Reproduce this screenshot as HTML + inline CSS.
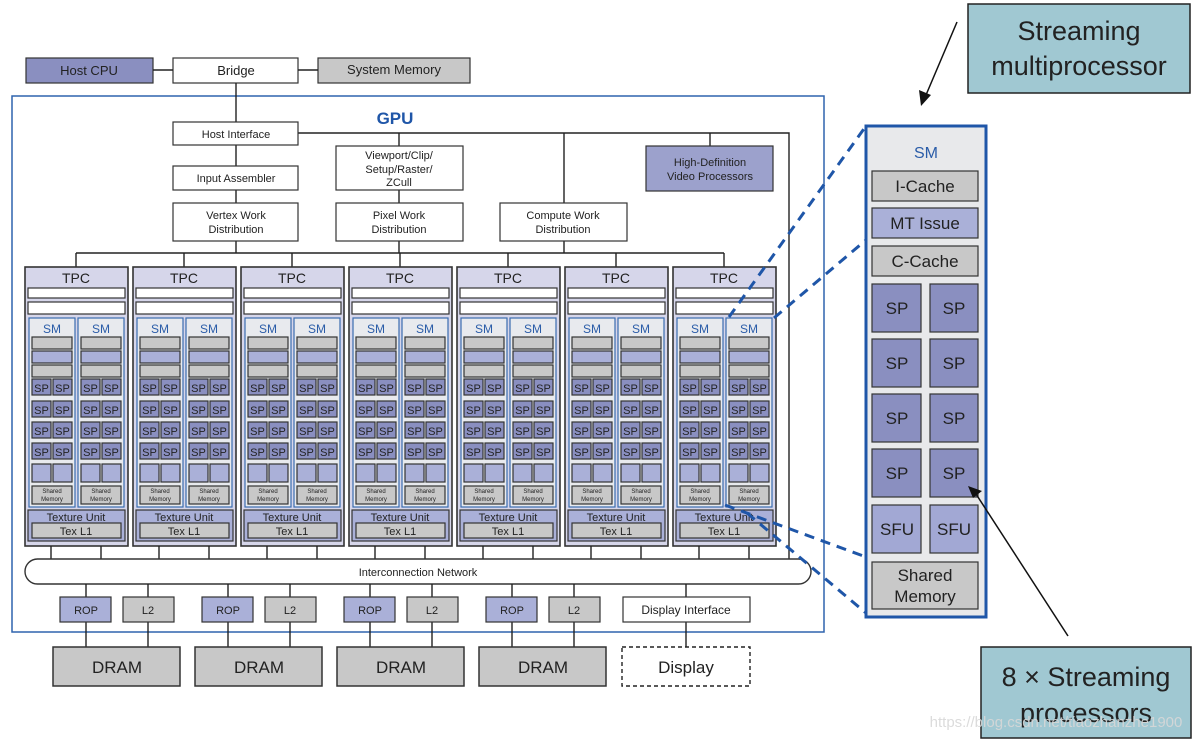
<!DOCTYPE html>
<html><head><meta charset="utf-8"><style>
html,body{margin:0;padding:0;background:#fff;}
svg{display:block;}
text{font-family:"Liberation Sans",sans-serif;text-anchor:middle;fill:#222;}
.b{stroke:#333;stroke-width:1.2;}
.w{fill:#fff;}
.g{fill:#c8c8c8;}
.p{fill:#8a8fc0;}
.lp{fill:#aab0d8;}
.ln{stroke:#222;stroke-width:1.4;fill:none;}
</style></head><body>
<svg width="1199" height="741" viewBox="0 0 1199 741" xmlns="http://www.w3.org/2000/svg">
<defs>
<g id="sm">
<rect x="0" y="51" width="46" height="189" fill="#e8eaee" stroke="#3a6cb0" stroke-width="1.2"/>
<text x="23" y="66" font-size="12" style="fill:#2a5ca8">SM</text>
<rect class="b g" x="3" y="70" width="40" height="12"/>
<rect class="b lp" x="3" y="84" width="40" height="12"/>
<rect class="b g" x="3" y="98" width="40" height="12"/>
<rect class="b p" x="3" y="112" width="19" height="16"/><rect class="b p" x="24" y="112" width="19" height="16"/>
<rect class="b p" x="3" y="134" width="19" height="16"/><rect class="b p" x="24" y="134" width="19" height="16"/>
<rect class="b p" x="3" y="155" width="19" height="16"/><rect class="b p" x="24" y="155" width="19" height="16"/>
<rect class="b p" x="3" y="176" width="19" height="16"/><rect class="b p" x="24" y="176" width="19" height="16"/>
<rect class="b lp" x="3" y="197" width="19" height="18"/><rect class="b lp" x="24" y="197" width="19" height="18"/>
<rect class="b g" x="3" y="219" width="40" height="18"/>
</g>
</defs>

<!-- top row -->
<rect class="b" x="26" y="58" width="127" height="25" fill="#8a8fc0"/>
<text x="89" y="75" font-size="13">Host CPU</text>
<rect class="b w" x="173" y="58" width="125" height="25"/>
<text x="236" y="75" font-size="13">Bridge</text>
<rect class="b g" x="318" y="58" width="152" height="25"/>
<text x="394" y="74" font-size="13">System Memory</text>
<line class="ln" x1="153" y1="70" x2="173" y2="70"/><line class="ln" x1="298" y1="70" x2="318" y2="70"/>

<!-- GPU border -->
<rect x="12" y="96" width="812" height="536" fill="none" stroke="#2f63ad" stroke-width="1.5"/>
<text x="395" y="124" font-size="17" font-weight="bold" style="fill:#1f56a8">GPU</text>

<!-- connectors -->
<line class="ln" x1="236" y1="83" x2="236" y2="122"/>
<polyline class="ln" points="298,133 789,133 789,559"/>
<line class="ln" x1="236" y1="145" x2="236" y2="166"/>
<line class="ln" x1="236" y1="190" x2="236" y2="203"/>
<line class="ln" x1="399" y1="133" x2="399" y2="146"/>
<line class="ln" x1="399" y1="190" x2="399" y2="203"/>
<line class="ln" x1="564" y1="133" x2="564" y2="203"/>
<line class="ln" x1="710" y1="133" x2="710" y2="146"/>
<line class="ln" x1="236" y1="241" x2="236" y2="253"/>
<line class="ln" x1="399" y1="241" x2="399" y2="253"/>
<line class="ln" x1="564" y1="241" x2="564" y2="253"/>
<line class="ln" x1="76" y1="253" x2="724" y2="253"/>
<line class="ln" x1="76" y1="253" x2="76" y2="267"/><line class="ln" x1="184" y1="253" x2="184" y2="267"/>
<line class="ln" x1="292" y1="253" x2="292" y2="267"/><line class="ln" x1="400" y1="253" x2="400" y2="267"/>
<line class="ln" x1="508" y1="253" x2="508" y2="267"/><line class="ln" x1="616" y1="253" x2="616" y2="267"/>
<line class="ln" x1="724" y1="253" x2="724" y2="267"/>

<!-- front-end boxes -->
<rect class="b w" x="173" y="122" width="125" height="23"/><text x="236" y="138" font-size="11">Host Interface</text>
<rect class="b w" x="173" y="166" width="125" height="24"/><text x="236" y="182" font-size="11">Input Assembler</text>
<rect class="b w" x="173" y="203" width="125" height="38"/><text x="236" y="219" font-size="11">Vertex Work</text><text x="236" y="233" font-size="11">Distribution</text>
<rect class="b w" x="336" y="146" width="127" height="44"/><text x="399" y="159" font-size="11">Viewport/Clip/</text><text x="399" y="173" font-size="11">Setup/Raster/</text><text x="399" y="186" font-size="11">ZCull</text>
<rect class="b w" x="336" y="203" width="127" height="38"/><text x="399" y="219" font-size="11">Pixel Work</text><text x="399" y="233" font-size="11">Distribution</text>
<rect class="b w" x="500" y="203" width="127" height="38"/><text x="563" y="219" font-size="11">Compute Work</text><text x="563" y="233" font-size="11">Distribution</text>
<rect class="b" x="646" y="146" width="127" height="45" fill="#9ca1cc"/><text x="710" y="166" font-size="11">High-Definition</text><text x="710" y="180" font-size="11">Video Processors</text>

<!-- TPCs -->
<g id="tpc0" transform="translate(25,267)">
<rect x="0" y="0" width="103" height="279" fill="#d6d6ea" stroke="#333" stroke-width="1.6"/>
<text x="51" y="16" font-size="14">TPC</text>
<rect class="b w" x="3" y="21" width="97" height="10"/><rect class="b w" x="3" y="35" width="97" height="12"/>
<use href="#sm" x="4" y="0"/><use href="#sm" x="53" y="0"/>
<text x="16.5" y="125" font-size="11">SP</text><text x="37.5" y="125" font-size="11">SP</text><text x="65.5" y="125" font-size="11">SP</text><text x="86.5" y="125" font-size="11">SP</text>
<text x="16.5" y="147" font-size="11">SP</text><text x="37.5" y="147" font-size="11">SP</text><text x="65.5" y="147" font-size="11">SP</text><text x="86.5" y="147" font-size="11">SP</text>
<text x="16.5" y="168" font-size="11">SP</text><text x="37.5" y="168" font-size="11">SP</text><text x="65.5" y="168" font-size="11">SP</text><text x="86.5" y="168" font-size="11">SP</text>
<text x="16.5" y="189" font-size="11">SP</text><text x="37.5" y="189" font-size="11">SP</text><text x="65.5" y="189" font-size="11">SP</text><text x="86.5" y="189" font-size="11">SP</text>
<text x="27" y="226" font-size="6">Shared</text><text x="27" y="234" font-size="6">Memory</text>
<text x="76" y="226" font-size="6">Shared</text><text x="76" y="234" font-size="6">Memory</text>
<rect class="b lp" x="3" y="243" width="97" height="31"/>
<text x="51" y="254" font-size="11">Texture Unit</text>
<rect class="b g" x="7" y="256" width="89" height="15"/>
<text x="51" y="268" font-size="11">Tex L1</text>
<line class="ln" x1="26" y1="279" x2="26" y2="292"/><line class="ln" x1="76" y1="279" x2="76" y2="292"/>
</g>
<g transform="translate(108,0)">
<g transform="translate(25,267)">
<rect x="0" y="0" width="103" height="279" fill="#d6d6ea" stroke="#333" stroke-width="1.6"/>
<text x="51" y="16" font-size="14">TPC</text>
<rect class="b w" x="3" y="21" width="97" height="10"/><rect class="b w" x="3" y="35" width="97" height="12"/>
<use href="#sm" x="4" y="0"/><use href="#sm" x="53" y="0"/>
<text x="16.5" y="125" font-size="11">SP</text><text x="37.5" y="125" font-size="11">SP</text><text x="65.5" y="125" font-size="11">SP</text><text x="86.5" y="125" font-size="11">SP</text>
<text x="16.5" y="147" font-size="11">SP</text><text x="37.5" y="147" font-size="11">SP</text><text x="65.5" y="147" font-size="11">SP</text><text x="86.5" y="147" font-size="11">SP</text>
<text x="16.5" y="168" font-size="11">SP</text><text x="37.5" y="168" font-size="11">SP</text><text x="65.5" y="168" font-size="11">SP</text><text x="86.5" y="168" font-size="11">SP</text>
<text x="16.5" y="189" font-size="11">SP</text><text x="37.5" y="189" font-size="11">SP</text><text x="65.5" y="189" font-size="11">SP</text><text x="86.5" y="189" font-size="11">SP</text>
<text x="27" y="226" font-size="6">Shared</text><text x="27" y="234" font-size="6">Memory</text>
<text x="76" y="226" font-size="6">Shared</text><text x="76" y="234" font-size="6">Memory</text>
<rect class="b lp" x="3" y="243" width="97" height="31"/>
<text x="51" y="254" font-size="11">Texture Unit</text>
<rect class="b g" x="7" y="256" width="89" height="15"/>
<text x="51" y="268" font-size="11">Tex L1</text>
<line class="ln" x1="26" y1="279" x2="26" y2="292"/><line class="ln" x1="76" y1="279" x2="76" y2="292"/>
</g></g>
<g transform="translate(216,0)">
<g transform="translate(25,267)">
<rect x="0" y="0" width="103" height="279" fill="#d6d6ea" stroke="#333" stroke-width="1.6"/>
<text x="51" y="16" font-size="14">TPC</text>
<rect class="b w" x="3" y="21" width="97" height="10"/><rect class="b w" x="3" y="35" width="97" height="12"/>
<use href="#sm" x="4" y="0"/><use href="#sm" x="53" y="0"/>
<text x="16.5" y="125" font-size="11">SP</text><text x="37.5" y="125" font-size="11">SP</text><text x="65.5" y="125" font-size="11">SP</text><text x="86.5" y="125" font-size="11">SP</text>
<text x="16.5" y="147" font-size="11">SP</text><text x="37.5" y="147" font-size="11">SP</text><text x="65.5" y="147" font-size="11">SP</text><text x="86.5" y="147" font-size="11">SP</text>
<text x="16.5" y="168" font-size="11">SP</text><text x="37.5" y="168" font-size="11">SP</text><text x="65.5" y="168" font-size="11">SP</text><text x="86.5" y="168" font-size="11">SP</text>
<text x="16.5" y="189" font-size="11">SP</text><text x="37.5" y="189" font-size="11">SP</text><text x="65.5" y="189" font-size="11">SP</text><text x="86.5" y="189" font-size="11">SP</text>
<text x="27" y="226" font-size="6">Shared</text><text x="27" y="234" font-size="6">Memory</text>
<text x="76" y="226" font-size="6">Shared</text><text x="76" y="234" font-size="6">Memory</text>
<rect class="b lp" x="3" y="243" width="97" height="31"/>
<text x="51" y="254" font-size="11">Texture Unit</text>
<rect class="b g" x="7" y="256" width="89" height="15"/>
<text x="51" y="268" font-size="11">Tex L1</text>
<line class="ln" x1="26" y1="279" x2="26" y2="292"/><line class="ln" x1="76" y1="279" x2="76" y2="292"/>
</g></g>
<g transform="translate(324,0)">
<g transform="translate(25,267)">
<rect x="0" y="0" width="103" height="279" fill="#d6d6ea" stroke="#333" stroke-width="1.6"/>
<text x="51" y="16" font-size="14">TPC</text>
<rect class="b w" x="3" y="21" width="97" height="10"/><rect class="b w" x="3" y="35" width="97" height="12"/>
<use href="#sm" x="4" y="0"/><use href="#sm" x="53" y="0"/>
<text x="16.5" y="125" font-size="11">SP</text><text x="37.5" y="125" font-size="11">SP</text><text x="65.5" y="125" font-size="11">SP</text><text x="86.5" y="125" font-size="11">SP</text>
<text x="16.5" y="147" font-size="11">SP</text><text x="37.5" y="147" font-size="11">SP</text><text x="65.5" y="147" font-size="11">SP</text><text x="86.5" y="147" font-size="11">SP</text>
<text x="16.5" y="168" font-size="11">SP</text><text x="37.5" y="168" font-size="11">SP</text><text x="65.5" y="168" font-size="11">SP</text><text x="86.5" y="168" font-size="11">SP</text>
<text x="16.5" y="189" font-size="11">SP</text><text x="37.5" y="189" font-size="11">SP</text><text x="65.5" y="189" font-size="11">SP</text><text x="86.5" y="189" font-size="11">SP</text>
<text x="27" y="226" font-size="6">Shared</text><text x="27" y="234" font-size="6">Memory</text>
<text x="76" y="226" font-size="6">Shared</text><text x="76" y="234" font-size="6">Memory</text>
<rect class="b lp" x="3" y="243" width="97" height="31"/>
<text x="51" y="254" font-size="11">Texture Unit</text>
<rect class="b g" x="7" y="256" width="89" height="15"/>
<text x="51" y="268" font-size="11">Tex L1</text>
<line class="ln" x1="26" y1="279" x2="26" y2="292"/><line class="ln" x1="76" y1="279" x2="76" y2="292"/>
</g></g>
<g transform="translate(432,0)">
<g transform="translate(25,267)">
<rect x="0" y="0" width="103" height="279" fill="#d6d6ea" stroke="#333" stroke-width="1.6"/>
<text x="51" y="16" font-size="14">TPC</text>
<rect class="b w" x="3" y="21" width="97" height="10"/><rect class="b w" x="3" y="35" width="97" height="12"/>
<use href="#sm" x="4" y="0"/><use href="#sm" x="53" y="0"/>
<text x="16.5" y="125" font-size="11">SP</text><text x="37.5" y="125" font-size="11">SP</text><text x="65.5" y="125" font-size="11">SP</text><text x="86.5" y="125" font-size="11">SP</text>
<text x="16.5" y="147" font-size="11">SP</text><text x="37.5" y="147" font-size="11">SP</text><text x="65.5" y="147" font-size="11">SP</text><text x="86.5" y="147" font-size="11">SP</text>
<text x="16.5" y="168" font-size="11">SP</text><text x="37.5" y="168" font-size="11">SP</text><text x="65.5" y="168" font-size="11">SP</text><text x="86.5" y="168" font-size="11">SP</text>
<text x="16.5" y="189" font-size="11">SP</text><text x="37.5" y="189" font-size="11">SP</text><text x="65.5" y="189" font-size="11">SP</text><text x="86.5" y="189" font-size="11">SP</text>
<text x="27" y="226" font-size="6">Shared</text><text x="27" y="234" font-size="6">Memory</text>
<text x="76" y="226" font-size="6">Shared</text><text x="76" y="234" font-size="6">Memory</text>
<rect class="b lp" x="3" y="243" width="97" height="31"/>
<text x="51" y="254" font-size="11">Texture Unit</text>
<rect class="b g" x="7" y="256" width="89" height="15"/>
<text x="51" y="268" font-size="11">Tex L1</text>
<line class="ln" x1="26" y1="279" x2="26" y2="292"/><line class="ln" x1="76" y1="279" x2="76" y2="292"/>
</g></g>
<g transform="translate(540,0)">
<g transform="translate(25,267)">
<rect x="0" y="0" width="103" height="279" fill="#d6d6ea" stroke="#333" stroke-width="1.6"/>
<text x="51" y="16" font-size="14">TPC</text>
<rect class="b w" x="3" y="21" width="97" height="10"/><rect class="b w" x="3" y="35" width="97" height="12"/>
<use href="#sm" x="4" y="0"/><use href="#sm" x="53" y="0"/>
<text x="16.5" y="125" font-size="11">SP</text><text x="37.5" y="125" font-size="11">SP</text><text x="65.5" y="125" font-size="11">SP</text><text x="86.5" y="125" font-size="11">SP</text>
<text x="16.5" y="147" font-size="11">SP</text><text x="37.5" y="147" font-size="11">SP</text><text x="65.5" y="147" font-size="11">SP</text><text x="86.5" y="147" font-size="11">SP</text>
<text x="16.5" y="168" font-size="11">SP</text><text x="37.5" y="168" font-size="11">SP</text><text x="65.5" y="168" font-size="11">SP</text><text x="86.5" y="168" font-size="11">SP</text>
<text x="16.5" y="189" font-size="11">SP</text><text x="37.5" y="189" font-size="11">SP</text><text x="65.5" y="189" font-size="11">SP</text><text x="86.5" y="189" font-size="11">SP</text>
<text x="27" y="226" font-size="6">Shared</text><text x="27" y="234" font-size="6">Memory</text>
<text x="76" y="226" font-size="6">Shared</text><text x="76" y="234" font-size="6">Memory</text>
<rect class="b lp" x="3" y="243" width="97" height="31"/>
<text x="51" y="254" font-size="11">Texture Unit</text>
<rect class="b g" x="7" y="256" width="89" height="15"/>
<text x="51" y="268" font-size="11">Tex L1</text>
<line class="ln" x1="26" y1="279" x2="26" y2="292"/><line class="ln" x1="76" y1="279" x2="76" y2="292"/>
</g></g>
<g transform="translate(648,0)">
<g transform="translate(25,267)">
<rect x="0" y="0" width="103" height="279" fill="#d6d6ea" stroke="#333" stroke-width="1.6"/>
<text x="51" y="16" font-size="14">TPC</text>
<rect class="b w" x="3" y="21" width="97" height="10"/><rect class="b w" x="3" y="35" width="97" height="12"/>
<use href="#sm" x="4" y="0"/><use href="#sm" x="53" y="0"/>
<text x="16.5" y="125" font-size="11">SP</text><text x="37.5" y="125" font-size="11">SP</text><text x="65.5" y="125" font-size="11">SP</text><text x="86.5" y="125" font-size="11">SP</text>
<text x="16.5" y="147" font-size="11">SP</text><text x="37.5" y="147" font-size="11">SP</text><text x="65.5" y="147" font-size="11">SP</text><text x="86.5" y="147" font-size="11">SP</text>
<text x="16.5" y="168" font-size="11">SP</text><text x="37.5" y="168" font-size="11">SP</text><text x="65.5" y="168" font-size="11">SP</text><text x="86.5" y="168" font-size="11">SP</text>
<text x="16.5" y="189" font-size="11">SP</text><text x="37.5" y="189" font-size="11">SP</text><text x="65.5" y="189" font-size="11">SP</text><text x="86.5" y="189" font-size="11">SP</text>
<text x="27" y="226" font-size="6">Shared</text><text x="27" y="234" font-size="6">Memory</text>
<text x="76" y="226" font-size="6">Shared</text><text x="76" y="234" font-size="6">Memory</text>
<rect class="b lp" x="3" y="243" width="97" height="31"/>
<text x="51" y="254" font-size="11">Texture Unit</text>
<rect class="b g" x="7" y="256" width="89" height="15"/>
<text x="51" y="268" font-size="11">Tex L1</text>
<line class="ln" x1="26" y1="279" x2="26" y2="292"/><line class="ln" x1="76" y1="279" x2="76" y2="292"/>
</g></g>

<!-- interconnect -->
<rect x="25" y="559" width="786" height="25" rx="12.5" fill="#fff" stroke="#333" stroke-width="1.4"/>
<text x="418" y="576" font-size="11">Interconnection Network</text>

<!-- ROP / L2 / DRAM -->
<g id="mem0">
<line class="ln" x1="86" y1="584" x2="86" y2="647"/><line class="ln" x1="148" y1="584" x2="148" y2="647"/>
<rect class="b lp" x="60" y="597" width="51" height="25"/><text x="86" y="614" font-size="11">ROP</text>
<rect class="b g" x="123" y="597" width="51" height="25"/><text x="148" y="614" font-size="11">L2</text>
<rect x="53" y="647" width="127" height="39" class="g" stroke="#333" stroke-width="1.5"/><text x="117" y="673" font-size="17">DRAM</text>
</g>
<g transform="translate(142,0)">
<line class="ln" x1="86" y1="584" x2="86" y2="647"/><line class="ln" x1="148" y1="584" x2="148" y2="647"/>
<rect class="b lp" x="60" y="597" width="51" height="25"/><text x="86" y="614" font-size="11">ROP</text>
<rect class="b g" x="123" y="597" width="51" height="25"/><text x="148" y="614" font-size="11">L2</text>
<rect x="53" y="647" width="127" height="39" class="g" stroke="#333" stroke-width="1.5"/><text x="117" y="673" font-size="17">DRAM</text>
</g>
<g transform="translate(284,0)">
<line class="ln" x1="86" y1="584" x2="86" y2="647"/><line class="ln" x1="148" y1="584" x2="148" y2="647"/>
<rect class="b lp" x="60" y="597" width="51" height="25"/><text x="86" y="614" font-size="11">ROP</text>
<rect class="b g" x="123" y="597" width="51" height="25"/><text x="148" y="614" font-size="11">L2</text>
<rect x="53" y="647" width="127" height="39" class="g" stroke="#333" stroke-width="1.5"/><text x="117" y="673" font-size="17">DRAM</text>
</g>
<g transform="translate(426,0)">
<line class="ln" x1="86" y1="584" x2="86" y2="647"/><line class="ln" x1="148" y1="584" x2="148" y2="647"/>
<rect class="b lp" x="60" y="597" width="51" height="25"/><text x="86" y="614" font-size="11">ROP</text>
<rect class="b g" x="123" y="597" width="51" height="25"/><text x="148" y="614" font-size="11">L2</text>
<rect x="53" y="647" width="127" height="39" class="g" stroke="#333" stroke-width="1.5"/><text x="117" y="673" font-size="17">DRAM</text>
</g>
<line class="ln" x1="686" y1="584" x2="686" y2="647"/>
<rect class="b w" x="623" y="597" width="127" height="25"/><text x="686" y="614" font-size="12">Display Interface</text>
<rect x="622" y="647" width="128" height="39" fill="#fff" stroke="#222" stroke-width="1.4" stroke-dasharray="4,3"/><text x="686" y="673" font-size="17">Display</text>

<!-- dashed zoom lines -->
<g stroke="#1f56a8" stroke-width="3" stroke-dasharray="10,7" fill="none">
<line x1="729" y1="317" x2="866" y2="126"/>
<line x1="774" y1="318" x2="866" y2="240"/>
<line x1="725" y1="505" x2="866" y2="557"/>
<line x1="747" y1="513" x2="866" y2="613"/>
</g>

<!-- big SM -->
<rect x="866" y="126" width="120" height="491" fill="#e8e9eb" stroke="#1f56a8" stroke-width="3"/>
<text x="926" y="158" font-size="16" style="fill:#2a5ca8">SM</text>
<rect class="b g" x="872" y="171" width="106" height="30"/><text x="925" y="192" font-size="17">I-Cache</text>
<rect class="b lp" x="872" y="208" width="106" height="30"/><text x="925" y="229" font-size="17">MT Issue</text>
<rect class="b g" x="872" y="246" width="106" height="30"/><text x="925" y="267" font-size="17">C-Cache</text>
<rect class="b p" x="872" y="284" width="49" height="48"/><rect class="b p" x="930" y="284" width="48" height="48"/>
<text x="897" y="314" font-size="17">SP</text><text x="954" y="314" font-size="17">SP</text>
<rect class="b p" x="872" y="339" width="49" height="48"/><rect class="b p" x="930" y="339" width="48" height="48"/>
<text x="897" y="369" font-size="17">SP</text><text x="954" y="369" font-size="17">SP</text>
<rect class="b p" x="872" y="394" width="49" height="48"/><rect class="b p" x="930" y="394" width="48" height="48"/>
<text x="897" y="424" font-size="17">SP</text><text x="954" y="424" font-size="17">SP</text>
<rect class="b p" x="872" y="449" width="49" height="48"/><rect class="b p" x="930" y="449" width="48" height="48"/>
<text x="897" y="479" font-size="17">SP</text><text x="954" y="479" font-size="17">SP</text>
<rect class="b" x="872" y="505" width="49" height="48" fill="#a2a8d4"/><rect class="b" x="930" y="505" width="48" height="48" fill="#a2a8d4"/>
<text x="897" y="535" font-size="17">SFU</text><text x="954" y="535" font-size="17">SFU</text>
<rect class="b g" x="872" y="562" width="106" height="47"/>
<text x="925" y="581" font-size="17">Shared</text><text x="925" y="602" font-size="17">Memory</text>

<!-- callouts -->
<rect x="968" y="4" width="222" height="89" fill="#a0c8d2" stroke="#222" stroke-width="1.5"/>
<text x="1079" y="40" font-size="27">Streaming</text>
<text x="1079" y="75" font-size="27">multiprocessor</text>
<line x1="957" y1="22" x2="926" y2="95" stroke="#111" stroke-width="1.5"/>
<polygon points="921,106 919,90 931,95" fill="#111"/>

<rect x="981" y="647" width="210" height="91" fill="#a0c8d2" stroke="#222" stroke-width="1.5"/>
<text x="1086" y="686" font-size="27">8 × Streaming</text>
<text x="1086" y="722" font-size="27">processors</text>
<line x1="1068" y1="636" x2="976" y2="494" stroke="#111" stroke-width="1.5"/>
<polygon points="968,486 982,491 973,498" fill="#111"/>

<text x="1056" y="727" font-size="15" style="fill:#d8d8d8;opacity:0.9">https://blog.csdn.net/tiaozhanzhe1900</text>
</svg>
</body></html>
